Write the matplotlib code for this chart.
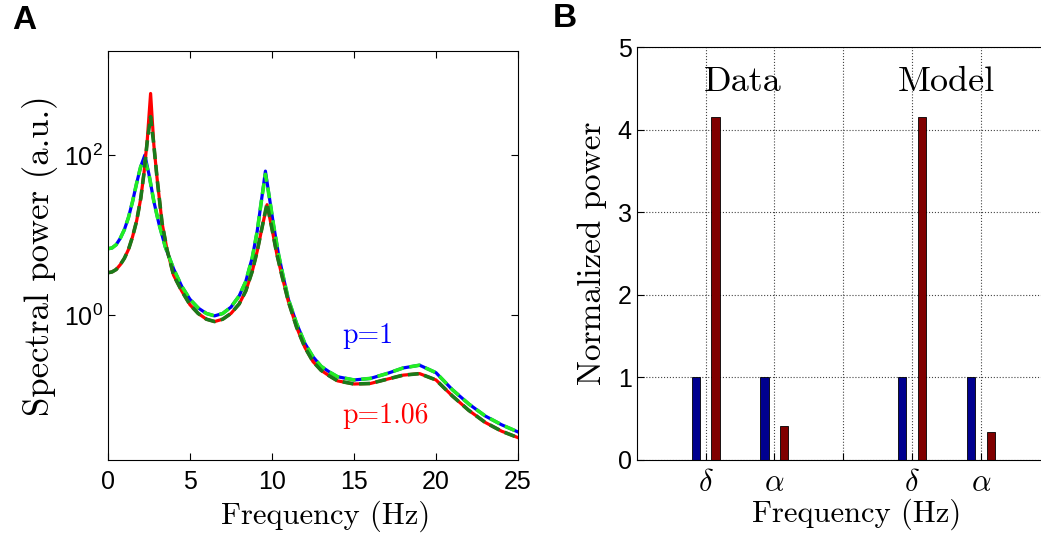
import matplotlib
matplotlib.use("Agg")
import matplotlib.pyplot as plt
import numpy as np

# Panel A: spectra (Hz, power a.u.)
freq_p1 = [0, 0.25, 0.5, 0.75, 1.0, 1.25, 1.5, 1.75, 2.0, 2.25, 2.5, 2.8, 3.1, 3.5, 4.0,
           4.5, 5.0, 5.5, 6.0, 6.5, 7.0, 7.5, 8.0, 8.4, 8.8, 9.1, 9.35, 9.6, 9.85, 10.1,
           10.4, 10.7, 11.0, 11.5, 12.0, 12.5, 13.0, 13.5, 14.0, 15.0, 16.0, 17.0, 18.0,
           19.0, 20.0, 21.0, 22.0, 23.0, 24.0, 25.0]
data_p1 = [6.76, 6.92, 7.59, 9.12, 11.7, 16.6, 26.3, 44.7, 72.4, 100, 57.5, 26.3, 14.1,
           7.08, 3.80, 2.29, 1.58, 1.23, 1.05, 0.98, 1.05, 1.26, 1.74, 2.63, 5.25, 11.2,
           26.3, 63.1, 28.8, 13.2, 5.75, 2.95, 1.58, 0.79, 0.447, 0.302, 0.229, 0.195,
           0.170, 0.155, 0.162, 0.186, 0.219, 0.237, 0.191, 0.117, 0.0776, 0.0550,
           0.0427, 0.0347]
model_p1 = [6.76, 6.92, 7.59, 9.12, 11.7, 16.6, 26.3, 44.7, 72.4, 87.0, 57.5, 26.3, 14.1,
            7.08, 3.80, 2.29, 1.58, 1.23, 1.05, 0.98, 1.05, 1.26, 1.74, 2.63, 5.25, 11.2,
            26.3, 57.5, 28.8, 13.2, 5.75, 2.95, 1.58, 0.79, 0.447, 0.302, 0.229, 0.195,
            0.170, 0.155, 0.162, 0.186, 0.219, 0.237, 0.191, 0.117, 0.0776, 0.0550,
            0.0427, 0.0347]

freq_p106 = [0, 0.25, 0.5, 0.75, 1.0, 1.25, 1.5, 1.75, 2.0, 2.2, 2.4, 2.6, 2.8, 3.0, 3.3,
             3.6, 4.0, 4.5, 5.0, 5.5, 6.0, 6.5, 7.0, 7.5, 8.0, 8.4, 8.8, 9.1, 9.4, 9.7,
             10.0, 10.3, 10.6, 11.0, 11.5, 12.0, 12.5, 13.0, 13.5, 14.0, 15.0, 16.0, 17.0,
             18.0, 19.0, 20.0, 21.0, 22.0, 23.0, 24.0, 25.0]
data_p106 = [3.39, 3.47, 3.72, 4.27, 5.13, 6.61, 9.55, 15.1, 28.8, 60.3, 158, 589, 132,
             50.1, 14.1, 6.61, 3.16, 2.0, 1.35, 1.05, 0.891, 0.832, 0.891, 1.05, 1.38, 2.0,
             3.55, 6.31, 12.6, 24.0, 12.0, 5.75, 3.16, 1.48, 0.708, 0.398, 0.263, 0.204,
             0.174, 0.151, 0.138, 0.140, 0.158, 0.178, 0.186, 0.155, 0.0977, 0.0646,
             0.0457, 0.0355, 0.0295]
model_p106 = [3.39, 3.47, 3.72, 4.27, 5.13, 6.61, 9.55, 15.1, 28.8, 60.3, 150, 302, 132,
              50.1, 14.1, 6.61, 3.16, 2.0, 1.35, 1.05, 0.891, 0.832, 0.891, 1.05, 1.38, 2.0,
              3.55, 6.31, 12.6, 25.1, 12.0, 5.75, 3.16, 1.48, 0.708, 0.398, 0.263, 0.204,
              0.174, 0.151, 0.138, 0.140, 0.158, 0.178, 0.186, 0.155, 0.0977, 0.0646,
              0.0457, 0.0355, 0.0295]

# Panel B: normalized band power
band_pos = [1, 2, 4, 5]
band_labels = [r'$\delta$', r'$\alpha$', '', r'$\delta$', r'$\alpha$']
power_p1 = [1, 1, 1, 1]
power_p106 = [4.15, 0.41, 4.15, 0.335]
group_names = ['Data', 'Model']
group_pos = [1.54, 4.49]

plt.rcParams['font.family'] = 'Liberation Sans'
plt.rcParams['mathtext.fontset'] = 'cm'
plt.rcParams['xtick.direction'] = 'in'
plt.rcParams['ytick.direction'] = 'in'

serif = 'cmr10'

fig = plt.figure(figsize=(10.41, 5.39), dpi=100)

# --- Panel A
ax1 = fig.add_axes([0.1037, 0.1466, 0.3939, 0.7588])
ax1.plot(freq_p1, data_p1, color='#0000ff', lw=2.3)
ax1.plot(freq_p106, data_p106, color='#ff0000', lw=2.3)
ax1.plot(freq_p1, model_p1, color='#22ee22', lw=2.6, linestyle=(0, (3, 1.6)))
ax1.plot(freq_p106, model_p106, color='#1a7a1a', lw=2.6, linestyle=(0, (3, 1.6)))
ax1.set_yscale('log')
ax1.set_xlim(0, 25)
ax1.set_ylim(0.0155, 2000)
ax1.set_xticks([0, 5, 10, 15, 20, 25])
ax1.set_yticks([1, 100])
ax1.set_yticklabels([r'$\mathregular{10^0}$', r'$\mathregular{10^2}$'])
ax1.yaxis.set_minor_locator(matplotlib.ticker.NullLocator())
ax1.tick_params(labelsize=18, top=True, right=True, length=5, width=0.8)
ax1.tick_params(axis='x', pad=7)
ax1.set_xlabel('Frequency (Hz)', fontfamily=serif, fontsize=22, labelpad=5)
ax1.xaxis.label.set_x(0.532)
ax1.set_ylabel('Spectral power (a.u.)', fontfamily=serif, fontsize=25, labelpad=4)
ax1.text(14.3, 0.55, 'p=1', color='#0000ff', fontfamily=serif, fontsize=20, va='center')
ax1.text(14.3, 0.055, 'p=1.06', color='#ff0000', fontfamily=serif, fontsize=20, va='center')

# --- Panel B
ax2 = fig.add_axes([0.6116, 0.1466, 0.397, 0.7662])
bw = 0.12
ax2.bar(np.array(band_pos) - 0.143, power_p1, width=bw, color='#00008f', edgecolor='black', lw=0.6)
ax2.bar(np.array(band_pos) + 0.143, power_p106, width=bw, color='#800000', edgecolor='black', lw=0.6)
ax2.set_xlim(0, 6)
ax2.set_ylim(0, 5)
ax2.set_xticks([1, 2, 3, 4, 5])
ax2.set_xticklabels(band_labels)
ax2.set_yticks([0, 1, 2, 3, 4, 5])
ax2.grid(True, linestyle=':', color='#444444', lw=0.8)
ax2.set_axisbelow(True)
ax2.tick_params(axis='y', labelsize=18, length=5, width=0.8)
ax2.tick_params(axis='x', labelsize=22, length=5, width=0.8, pad=6)
ax2.set_xlabel('Frequency (Hz)', fontfamily=serif, fontsize=22, labelpad=0)
ax2.xaxis.label.set_x(0.531)
ax2.set_ylabel('Normalized power', fontfamily=serif, fontsize=24, labelpad=8)
for name, x in zip(group_names, group_pos):
    ax2.text(x, 4.57, name, fontfamily=serif, fontsize=26, ha='center', va='center')

fig.text(0.0115, 0.99, 'A', fontsize=24, fontweight='bold', va='top', ha='left')
fig.text(0.531, 0.995, 'B', fontsize=24, fontweight='bold', va='top', ha='left')

fig.savefig('out.png', dpi=100)
